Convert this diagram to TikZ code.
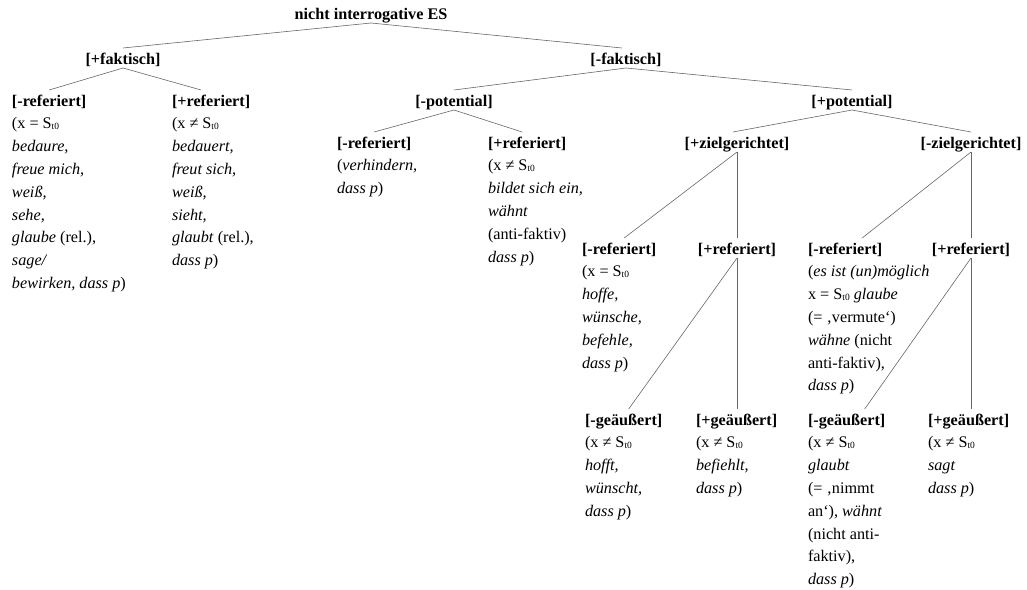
\documentclass[tikz,border=0pt]{standalone}
\usepackage{fontspec}
\setmainfont{Liberation Serif}
% subscripted speaker symbol
\newcommand\Stnull{S\raisebox{-1pt}{\fontsize{9.5}{9.5}\selectfont t0}}
% fixed top for the first line of a body text
\newcommand\firststrut{\rule{0pt}{12pt}}
\begin{document}
\begin{tikzpicture}[x=1pt,y=-1pt,
  every node/.style={inner sep=0pt, outer sep=0pt, text=black,
    font=\fontsize{16.2}{22.8}\selectfont},
  feat/.style={font=\fontsize{16.2}{22.8}\selectfont\bfseries,
    text height=11pt, text depth=3pt},
  body/.style={align=left, anchor=north west},
  edge/.style={draw=black!60, line width=0.6pt}]
\newcommand\link[3][]{\draw[edge] ([yshift=-1pt]#2.south) -- ([yshift=5pt,#1]#3.north);}
\newcommand\vlink[2]{\draw[edge, shorten >=5pt] ([yshift=-1pt]#1.south) -- (#1.south |- #2.north);}
\useasboundingbox (0,0) rectangle (1027,589);

% feature headings
\node[feat, anchor=base] (root) at (371,19) {nicht interrogative ES};
\node[feat, anchor=base] (pf) at (123,64) {[+faktisch]};
\node[feat, anchor=base] (mf) at (626,64) {[-faktisch]};
\node[feat, anchor=base west] (a1) at (12,106) {[-referiert]};
\node[feat, anchor=base west] (a2) at (172,106) {[+referiert]};
\node[feat, anchor=base] (mpot) at (454,106) {[-potential]};
\node[feat, anchor=base] (ppot) at (852,106) {[+potential]};
\node[feat, anchor=base west] (c1) at (337,148) {[-referiert]};
\node[feat, anchor=base west] (c2) at (488,148) {[+referiert]};
\node[feat, anchor=base] (zp) at (737,148) {[+zielgerichtet]};
\node[feat, anchor=base] (zm) at (971,148) {[-zielgerichtet]};
\node[feat, anchor=base west] (e1) at (582,254) {[-referiert]};
\node[feat, anchor=base] (e2) at (737,254) {[+referiert]};
\node[feat, anchor=base west] (g1) at (808,254) {[-referiert]};
\node[feat, anchor=base] (g2) at (971,254) {[+referiert]};
\node[feat, anchor=base west] (h1) at (585,425) {[-geäußert]};
\node[feat, anchor=base west] (h2) at (696,425) {[+geäußert]};
\node[feat, anchor=base west] (k1) at (808,425) {[-geäußert]};
\node[feat, anchor=base west] (k2) at (928,425) {[+geäußert]};

% example texts below the leaves
\node[body] (a1t) at ([yshift=-10.8pt]a1.base west) {\firststrut(x = \Stnull\\
\textit{bedaure,}\\
\textit{freue mich,}\\
\textit{weiß,}\\
\textit{sehe,}\\
\textit{glaube} (rel.),\\
\textit{sage/}\\
\textit{bewirken, dass p})};
\node[body] (a2t) at ([yshift=-10.8pt]a2.base west) {\firststrut(x ≠ \Stnull\\
\textit{bedauert,}\\
\textit{freut sich,}\\
\textit{weiß,}\\
\textit{sieht,}\\
\textit{glaubt} (rel.),\\
\textit{dass p})};
\node[body] (c1t) at ([yshift=-10.8pt]c1.base west) {\firststrut(\textit{verhindern,}\\
\textit{dass p})};
\node[body] (c2t) at ([yshift=-10.8pt]c2.base west) {\firststrut(x ≠ \Stnull\\
\textit{bildet sich ein,}\\
\textit{wähnt}\\
(anti-faktiv)\\
\textit{dass p})};
\node[body] (e1t) at ([yshift=-10.8pt]e1.base west) {\firststrut(x = \Stnull\\
\textit{hoffe,}\\
\textit{wünsche,}\\
\textit{befehle,}\\
\textit{dass p})};
\node[body] (g1t) at ([yshift=-10.8pt]g1.base west) {\firststrut(\textit{es ist (un)möglich}\\
x = \Stnull\ \textit{glaube}\\
(= ‚vermute‘)\\
\textit{wähne} (nicht\\
anti-faktiv),\\
\textit{dass p})};
\node[body] (h1t) at ([yshift=-10.8pt]h1.base west) {\firststrut(x ≠ \Stnull\\
\textit{hofft,}\\
\textit{wünscht,}\\
\textit{dass p})};
\node[body] (h2t) at ([yshift=-10.8pt]h2.base west) {\firststrut(x ≠ \Stnull\\
\textit{befiehlt,}\\
\textit{dass p})};
\node[body] (k1t) at ([yshift=-10.8pt]k1.base west) {\firststrut(x ≠ \Stnull\\
\textit{glaubt}\\
(= ‚nimmt\\
an‘), \textit{wähnt}\\
(nicht anti-\\
faktiv),\\
\textit{dass p})};
\node[body] (k2t) at ([yshift=-10.8pt]k2.base west) {\firststrut(x ≠ \Stnull\\
\textit{sagt}\\
\textit{dass p})};

% tree branches
\link{root}{pf}
\link[xshift=-4pt]{root}{mf}
\link{pf}{a1}
\link[xshift=-10pt]{pf}{a2}
\link{mf}{mpot}
\link{mf}{ppot}
\link{mpot}{c1}
\link[xshift=-5pt]{mpot}{c2}
\link[xshift=-4pt]{ppot}{zp}
\link{ppot}{zm}
\link[xshift=5pt]{zp}{e1}
\vlink{zp}{e2}
\link[xshift=17pt]{zm}{g1}
\vlink{zm}{g2}
\link[xshift=5pt]{e2}{h1}
\vlink{e2}{h2}
\link[xshift=18pt]{g2}{k1}
\vlink{g2}{k2}
\end{tikzpicture}
\end{document}
